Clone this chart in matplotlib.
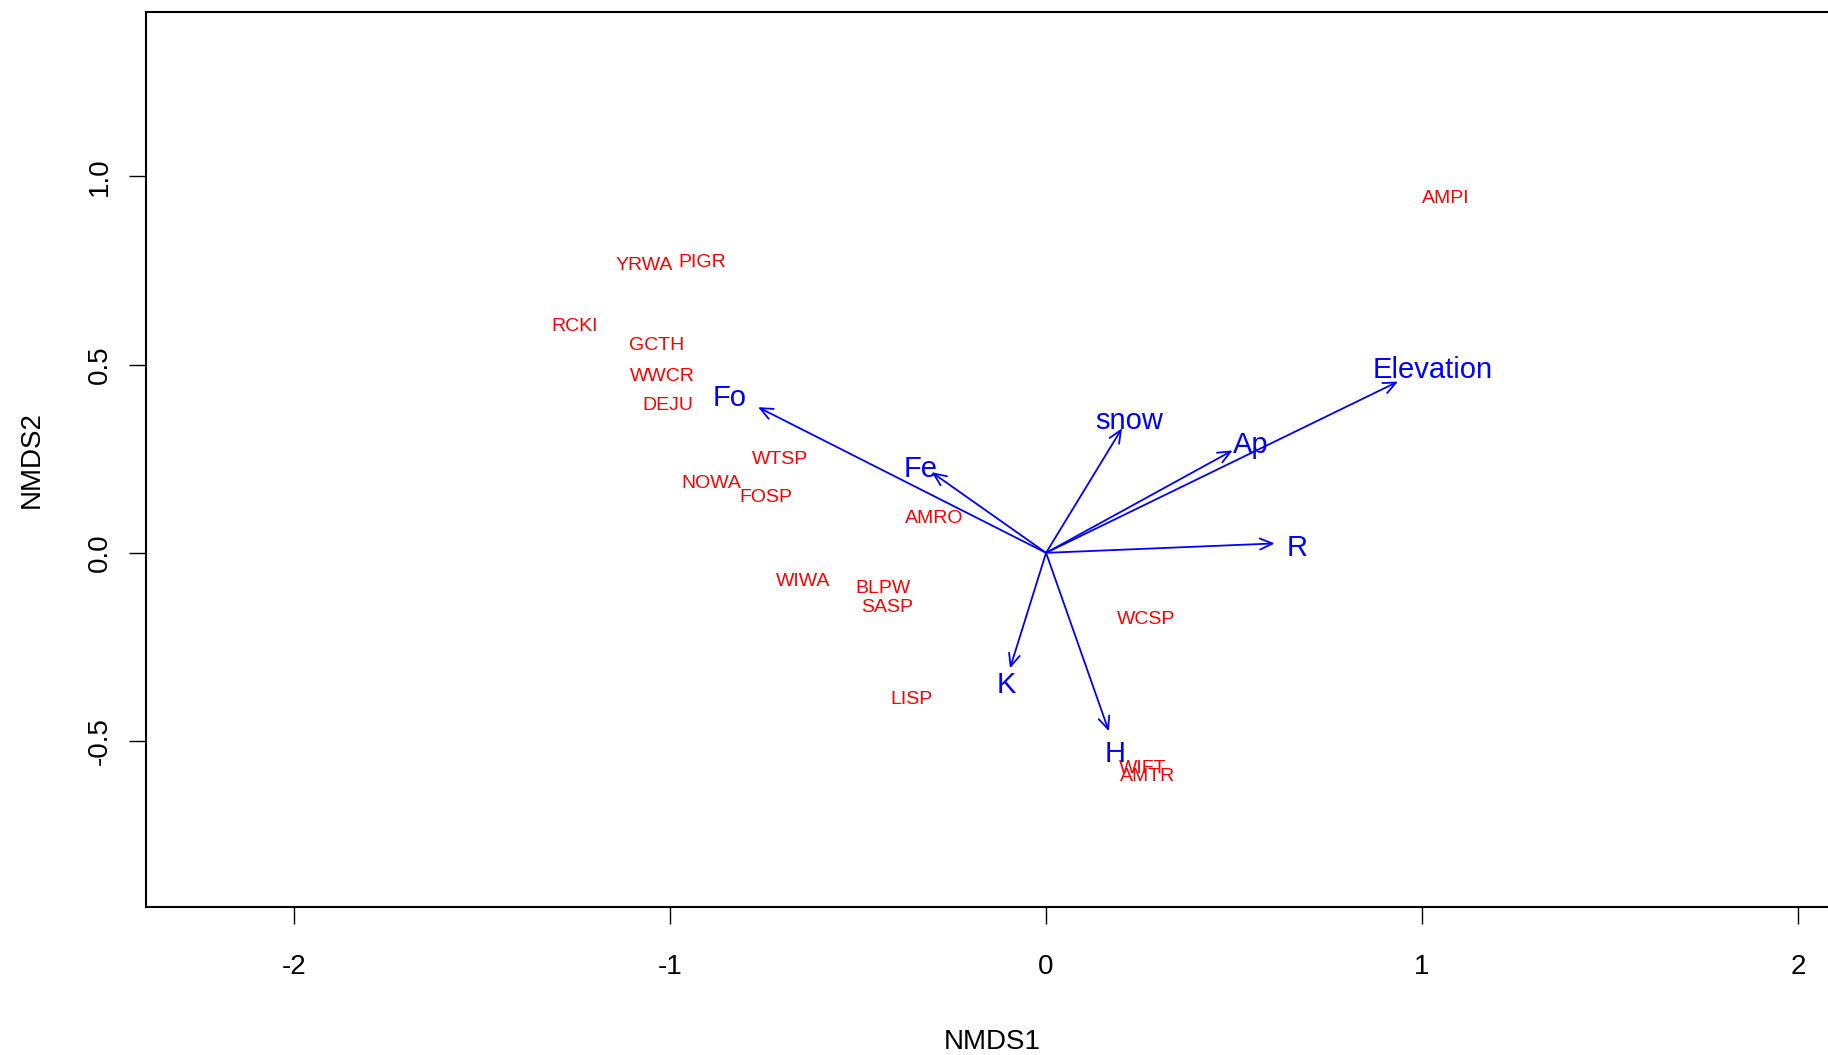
import matplotlib
matplotlib.use("Agg")
import matplotlib.pyplot as plt

plt.rcParams['font.family'] = ['Liberation Sans', 'DejaVu Sans']

# species scores
species = ["AMPI", "YRWA", "PIGR", "RCKI", "GCTH", "WWCR", "DEJU", "WTSP", "NOWA",
           "FOSP", "AMRO", "WIWA", "BLPW", "SASP", "WCSP", "LISP", "WIFT", "AMTR"]
sp_x = [1.064, -1.070, -0.915, -1.253, -1.036, -1.020, -1.005, -0.707, -0.890,
        -0.744, -0.298, -0.645, -0.434, -0.422, 0.267, -0.357, 0.257, 0.270]
sp_y = [0.947, 0.768, 0.777, 0.607, 0.557, 0.474, 0.396, 0.254, 0.189,
        0.152, 0.096, -0.071, -0.090, -0.139, -0.173, -0.384, -0.567, -0.588]

# environmental vectors (envfit)
env = ["Elevation", "Ap", "snow", "R", "H", "K", "Fe", "Fo"]
env_x = [0.936, 0.496, 0.202, 0.608, 0.167, -0.096, -0.304, -0.766]
env_y = [0.455, 0.272, 0.331, 0.025, -0.474, -0.307, 0.214, 0.387]
label_mult = 1.1

x_ticks = [-2, -1, 0, 1, 2]
y_ticks = [-0.5, 0.0, 0.5, 1.0]
x_lim = (-2.394, 2.394)
y_lim = (-0.941, 1.437)

fig = plt.figure(figsize=(18.28, 10.55), dpi=100)
ax = fig.add_axes([0.0799, 0.1403, 1.0646 - 0.0799, 0.9886 - 0.1403])

for i in range(len(species)):
    ax.text(sp_x[i], sp_y[i], species[i], color="#FF0000", fontsize=14,
            ha="center", va="center_baseline")

for i in range(len(env)):
    ax.annotate("", xy=(env_x[i], env_y[i]), xytext=(0, 0),
                arrowprops=dict(arrowstyle="->,head_length=0.45,head_width=0.2",
                                color="#0000FF", lw=1.3, mutation_scale=20,
                                shrinkA=0, shrinkB=0))
    # labels a bit lower than the plain centre, R centres on the letter height
    ax.annotate(env[i], xy=(env_x[i] * label_mult, env_y[i] * label_mult),
                xytext=(0, -1.5), textcoords="offset points", color="#0000FF",
                fontsize=21, ha="center", va="center_baseline")

ax.set_xlim(x_lim)
ax.set_ylim(y_lim)
ax.set_xticks(x_ticks)
ax.set_xticklabels([str(t) for t in x_ticks])
ax.set_yticks(y_ticks)
ax.set_yticklabels(["%.1f" % t for t in y_ticks], rotation=90, va="center")
ax.tick_params(axis="both", direction="out", length=12, width=1, labelsize=20)
ax.tick_params(axis="x", pad=22)
ax.tick_params(axis="y", pad=12)
for s in ax.spines.values():
    s.set_linewidth(1.5)

ax.set_xlabel("NMDS1", fontsize=20)
ax.set_ylabel("NMDS2", fontsize=20, labelpad=30)
# x label sits under the visible part of the plot, as in the reference
ax.xaxis.set_label_coords(0.470, -0.136)

fig.savefig("out.png", dpi=100)
